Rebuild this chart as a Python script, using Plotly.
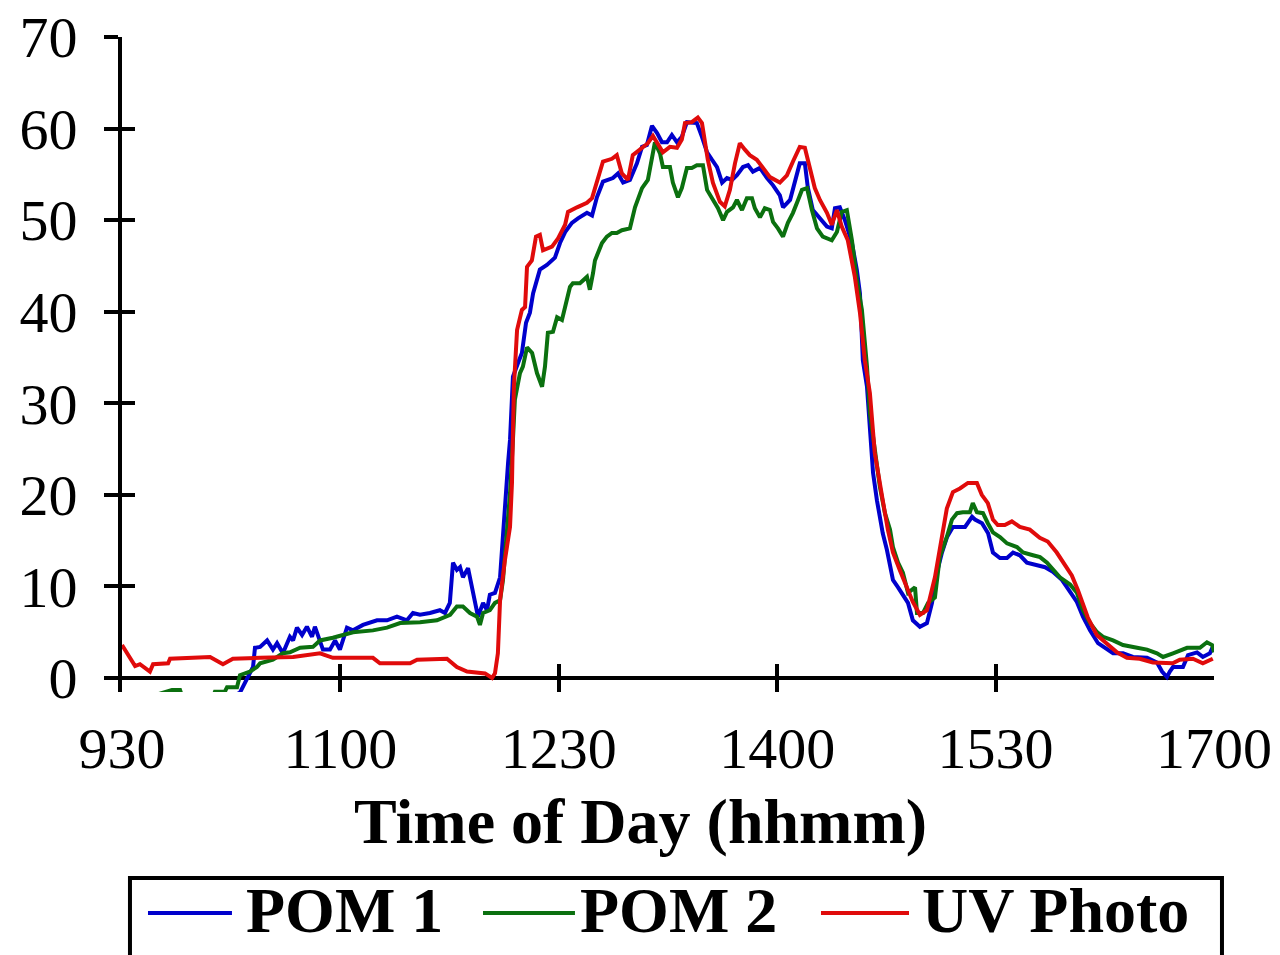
import plotly.graph_objects as go

# Time axis: minutes after 09:30
tick_minutes = [0, 90, 180, 270, 360, 450]
tick_labels = ["930", "1100", "1230", "1400", "1530", "1700"]
y_ticks = [0, 10, 20, 30, 40, 50, 60, 70]

pom1_t = [0, 11.5, 31.3, 38.3, 48.6, 51.9, 54.0, 54.8, 56.9, 59.8, 62.2, 63.9, 66.3, 69.2, 70.5, 72.1, 74.2,
          76.2, 78.3, 79.5, 81.6, 82.8, 85.7, 87.8, 89.8, 92.7, 95.2, 99.3, 105.1, 109.2, 113.3, 117.4,
          119.9, 122.8, 126.9, 131.0, 133.1, 135.1, 136.4, 138.0, 139.3, 140.5, 142.6, 144.6, 146.7,
          148.8, 150.4, 151.6, 153.7, 155.8, 157.0, 157.8, 159.1, 159.9, 161.1, 163.2, 164.8, 166.5,
          168.1, 169.4, 172.2, 175.1, 178.4, 180.5, 182.6, 185.4, 187.9, 191.6, 193.7, 195.7, 198.2,
          202.3, 204.4, 206.5, 209.3, 212.2, 214.3, 216.3, 218.4, 220.5, 222.5, 224.6, 226.6, 228.7,
          230.7, 232.8, 236.9, 239.0, 241.1, 243.1, 245.2, 247.3, 249.3, 251.4, 253.4, 255.9, 258.0,
          260.0, 262.9, 265.8, 268.3, 271.1, 272.4, 275.3, 277.3, 279.3, 281.4, 282.6, 284.7, 287.6,
          290.5, 292.5, 293.8, 295.8, 297.9, 300.8, 302.8, 304.1, 305.3, 307.0, 308.2, 309.5, 311.1,
          312.3, 313.5, 315.2, 316.5, 317.7, 319.8, 321.8, 323.9, 325.9, 328.8, 331.7, 333.8, 335.8,
          337.9, 340.0, 342.4, 347.4, 350.3, 351.5, 354.4, 356.9, 358.9, 361.8, 364.7, 367.2, 370.0,
          372.9, 377.0, 380.4, 383.6, 387.4, 390.7, 393.5, 396.0, 398.9, 402.2, 405.8, 408.4, 412.5,
          416.6, 422.4, 426.5, 428.6, 430.6, 431.8, 433.1, 437.2, 439.3, 443.0, 445.4, 448.3, 449.5]
pom1_v = [-4, -4, -1.8, -3, -1.6, 0.1, 1.2, 3.3, 3.4, 4.1, 3.1, 3.8, 2.7, 4.5, 4.1, 5.5, 4.7,
          5.6, 4.5, 5.6, 4.1, 3.1, 3.1, 4.1, 3.1, 5.5, 5.2, 5.8, 6.3, 6.3, 6.7, 6.3,
          7.1, 6.9, 7.1, 7.4, 7.1, 8.2, 12.6, 11.8, 12.1, 11.0, 12.0, 9.3, 6.7,
          8.2, 7.4, 9.1, 9.3, 11.0, 15.8, 19.4, 23.5, 26.0, 32.9, 34.4, 35.5, 38.8,
          39.9, 42.0, 44.6, 45.1, 45.9, 47.5, 48.7, 49.7, 50.2, 50.8, 50.5, 52.5, 54.2,
          54.6, 55.1, 54.1, 54.4, 56.2, 58.0, 58.2, 60.3, 59.5, 58.5, 58.5, 59.3, 58.5,
          59.1, 60.7, 60.6, 59.1, 57.4, 56.6, 55.8, 54.1, 54.6, 54.4, 54.9, 55.8, 56.0,
          55.3, 55.7, 54.6, 53.8, 52.7, 51.4, 52.2, 54.4, 56.2, 56.2, 53.6, 51.1, 50.2,
          49.3, 49.1, 51.3, 51.4, 50.0, 47.5, 44.6, 42.0, 34.7, 31.8, 26.8, 22.4, 19.4,
          17.6, 15.8, 14.0, 12.1, 10.7, 9.9, 9.1, 8.2, 6.3, 5.6, 6.0, 8.2, 11.5,
          13.7, 15.4, 16.5, 16.5, 17.6, 17.3, 16.9, 15.8, 13.7, 13.1, 13.1, 13.7, 13.4,
          12.6, 12.3, 12.1, 11.6, 10.7, 9.4, 8.3, 6.7, 5.2, 3.8, 3.1, 2.7, 2.7,
          2.3, 2.2, 1.7, 0.7, 0.1, 0.7, 1.2, 1.2, 2.5, 2.8, 2.3, 2.7, 3.4]

pom2_t = [0, 20.6, 23.9, 26.0, 36.3, 38.3, 42.4, 43.3, 47.4, 48.6, 52.7, 55.6, 56.9, 62.2, 66.3, 69.2,
          73.4, 78.7, 81.6, 86.9, 95.2, 103.4, 109.2, 114.6, 122.8, 129.8, 135.2, 138.0, 140.5, 143.4,
          146.3, 147.5, 148.8, 151.6, 153.7, 155.8, 157.0, 158.7, 159.9, 161.1, 161.9, 164.0, 165.2,
          166.9, 169.0, 171.0, 173.1, 174.3, 175.5, 177.6, 179.3, 181.3, 183.4, 184.6, 185.8, 188.7,
          191.6, 192.8, 194.1, 194.9, 197.8, 199.8, 201.9, 203.9, 206.0, 209.3, 211.4, 212.6, 214.3,
          216.7, 218.4, 219.6, 221.7, 222.9, 225.8, 227.0, 229.1, 230.7, 232.8, 234.8, 236.9, 239.4,
          241.1, 243.5, 245.6, 247.7, 249.3, 251.8, 253.4, 255.5, 257.5, 259.6, 260.8, 262.9, 264.9,
          267.0, 268.3, 270.3, 272.4, 274.4, 276.5, 278.6, 280.2, 282.3, 284.3, 286.4, 288.8, 292.5,
          294.6, 296.6, 298.7, 300.8, 302.8, 304.9, 307.0, 308.2, 310.2, 312.3, 314.4, 316.5, 317.7,
          319.8, 321.8, 323.9, 326.8, 327.6, 330.1, 332.2, 335.0, 337.0, 339.9, 342.0, 344.1, 346.5,
          349.4, 350.6, 352.3, 354.8, 356.8, 358.9, 361.8, 364.7, 368.8, 371.3, 375.4, 378.3, 381.2,
          383.6, 386.5, 390.7, 393.5, 396.0, 398.9, 401.8, 404.3, 408.4, 412.5, 418.3, 422.4, 426.5,
          429.0, 433.1, 438.9, 444.2, 447.1, 449.2, 450.0]
pom2_v = [-3, -1.3, -1.3, -3, -3, -1.5, -1.5, -1.0, -1.0, 0.3, 0.7, 1.2, 1.6, 2.0, 2.7, 2.8,
          3.3, 3.4, 4.1, 4.4, 5.0, 5.2, 5.5, 6.0, 6.1, 6.3, 6.9, 7.8, 7.8, 7.1,
          6.7, 5.8, 7.1, 7.4, 8.2, 8.5, 10.7, 15.8, 20.2, 26.0, 30.4, 33.3, 34.0,
          36.1, 35.5, 33.3, 31.8, 34.0, 37.7, 37.8, 39.4, 39.1, 41.3, 42.7, 43.1, 43.1,
          43.8, 42.4, 44.2, 45.6, 47.5, 48.2, 48.6, 48.6, 48.9, 49.1, 51.4, 52.2, 53.5,
          54.4, 57.1, 58.5, 57.3, 55.8, 55.8, 54.1, 52.5, 53.5, 55.7, 55.7, 56.0, 56.0,
          53.3, 52.2, 51.3, 50.0, 50.9, 51.4, 52.2, 51.1, 52.4, 52.4, 51.3, 50.3, 51.3,
          51.1, 49.8, 49.1, 48.2, 49.7, 50.8, 52.2, 53.3, 53.5, 51.1, 49.1, 48.2, 47.8,
          48.7, 50.9, 51.1, 47.8, 43.5, 40.2, 34.0, 28.9, 24.6, 20.9, 18.0, 16.2, 14.3,
          12.6, 11.5, 9.3, 9.9, 7.1, 7.1, 8.2, 8.8, 13.2, 15.4, 17.3, 18.0, 18.1,
          18.1, 19.1, 18.1, 18.0, 16.9, 15.9, 15.4, 14.7, 14.3, 13.7, 13.4, 13.2, 12.6,
          11.8, 11.0, 10.2, 9.3, 7.4, 6.0, 5.0, 4.5, 4.1, 3.6, 3.3, 3.1, 2.7,
          2.3, 2.7, 3.3, 3.3, 3.9, 3.6, 2.8]

uv_t = [0, 5.4, 7.4, 9.5, 11.5, 12.8, 19.0, 19.8, 26.8, 30.9, 36.3, 41.6, 45.7, 56.9, 70.5, 81.6, 86.9,
        95.2, 103.4, 106.3, 118.7, 121.6, 133.9, 138.0, 142.2, 149.6, 152.5, 153.7, 154.9, 155.8, 157.8,
        159.9, 160.7, 161.1, 161.5, 162.8, 164.8, 166.1, 166.9, 168.9, 170.6, 172.2, 173.5, 177.2,
        179.7, 182.6, 183.8, 187.5, 191.6, 193.7, 195.7, 198.2, 201.9, 203.9, 206.0, 208.5, 210.5,
        213.4, 216.7, 218.8, 220.8, 222.9, 225.8, 228.7, 230.7, 232.0, 234.8, 237.3, 239.0, 240.2,
        241.4, 243.5, 246.4, 248.4, 250.5, 252.6, 254.6, 256.7, 258.7, 261.6, 263.7, 267.0, 271.1,
        274.0, 276.5, 279.3, 281.4, 283.5, 285.5, 287.6, 290.5, 292.5, 294.6, 296.6, 299.1, 302.0,
        304.1, 306.1, 308.2, 310.2, 312.3, 313.5, 315.6, 317.7, 320.5, 323.4, 325.9, 328.8, 331.7,
        335.0, 337.0, 339.9, 342.4, 345.3, 348.6, 352.3, 354.3, 356.8, 358.9, 360.9, 363.8, 366.7,
        370.0, 374.1, 378.2, 381.5, 385.2, 387.7, 391.4, 393.9, 396.0, 398.0, 401.7, 405.8, 410.0,
        414.1, 419.4, 424.8, 433.0, 435.9, 441.3, 445.4, 449.5]
uv_v = [3.6, 1.3, 1.5, 1.1, 0.7, 1.5, 1.6, 2.1, 2.2, 2.3, 2.3, 1.5, 2.1, 2.2, 2.3, 2.7, 2.2,
        2.2, 2.2, 1.6, 1.6, 2.0, 2.1, 1.2, 0.7, 0.5, 0.0, 0.5, 2.7, 8.5, 12.9,
        16.5, 21.3, 26.8, 31.8, 38.0, 40.2, 40.5, 44.9, 45.6, 48.2, 48.4, 46.7, 47.1,
        48.0, 49.5, 50.9, 51.4, 51.9, 52.4, 54.2, 56.4, 56.7, 57.1, 55.1, 54.4, 57.1,
        57.7, 58.4, 59.2, 58.4, 57.4, 58.0, 57.9, 58.8, 60.6, 60.7, 61.2, 60.6, 58.8,
        56.6, 54.1, 52.0, 51.5, 53.3, 56.2, 58.4, 57.7, 57.1, 56.6, 55.8, 54.7, 54.1,
        54.9, 56.4, 58.0, 57.9, 55.5, 53.5, 52.2, 50.8, 49.5, 51.1, 49.3, 47.8, 43.8,
        39.9, 34.7, 31.1, 24.6, 21.6, 19.4, 16.2, 13.7, 11.8, 9.9, 8.3, 6.9, 7.4,
        11.0, 14.3, 18.5, 20.3, 20.7, 21.3, 21.3, 20.0, 19.1, 17.3, 16.7, 16.7, 17.1,
        16.5, 16.2, 15.3, 14.9, 13.7, 12.7, 11.2, 9.6, 8.2, 6.6, 4.7, 3.8, 2.8,
        2.2, 2.1, 1.7, 1.6, 2.0, 2.1, 1.6, 2.1]

series_names = ["POM 1", "POM 2", "UV Photo"]
series_colors = ["#0000cc", "#0b700f", "#e00b0b"]

FONT = "Liberation Serif, Times New Roman, serif"

fig = go.Figure()
for name, t, v, c in zip(series_names, [pom1_t, pom2_t, uv_t], [pom1_v, pom2_v, uv_v], series_colors):
    fig.add_trace(go.Scatter(x=t, y=v, mode="lines", name=name, showlegend=False,
                             line=dict(color=c, width=4)))

# invisible trace to host the overlaid axis that gives the crossing y ticks
fig.add_trace(go.Scatter(x=[0], y=[0], yaxis="y2", mode="markers", marker=dict(opacity=0),
                         showlegend=False, hoverinfo="skip"))

yr = [-1.53, 70]
fig.update_layout(
    width=1280, height=955,
    margin=dict(l=122, r=66, t=37, b=263, autoexpand=False),
    paper_bgcolor="white", plot_bgcolor="white",
    font=dict(family=FONT, size=58, color="black"),
    xaxis=dict(range=[0, 450], tickvals=tick_minutes, ticktext=tick_labels,
               showgrid=False, zeroline=False, showline=False, automargin=False,
               ticks="inside", ticklen=28, tickwidth=4, tickcolor="black",
               ticklabelstandoff=17, tickfont=dict(size=58)),
    yaxis=dict(range=yr, tickvals=y_ticks, showgrid=False, automargin=False,
               zeroline=True, zerolinecolor="black", zerolinewidth=4,
               showline=True, linecolor="black", linewidth=4,
               ticks="outside", ticklen=14, tickwidth=4, tickcolor="black",
               ticklabelstandoff=15, tickfont=dict(size=58)),
    yaxis2=dict(range=yr, overlaying="y", side="left", tickvals=y_ticks, showticklabels=False,
                showgrid=False, zeroline=False, showline=False, automargin=False,
                ticks="inside", ticklen=13, tickwidth=4, tickcolor="black"),
)

# axis title (centred on the chart as in the original)
fig.add_annotation(text="<b>Time of Day (hhmm)</b>", xref="paper", yref="paper",
                   x=0.4744, y=-0.198, xanchor="center", yanchor="middle",
                   showarrow=False, font=dict(size=64, family=FONT))

# legend box drawn like the original (long line samples)
fig.add_shape(type="rect", xref="paper", yref="paper", x0=0.0073, x1=1.0073, y0=-0.42, y1=-0.284,
              line=dict(color="black", width=4), fillcolor="rgba(0,0,0,0)")
leg_line_x = [(0.0238, 0.1007), (0.3306, 0.4148), (0.6401, 0.7207)]
leg_text_x = [0.1117, 0.4176, 0.7308]
for name, c, (a, b), tx in zip(series_names, series_colors, leg_line_x, leg_text_x):
    fig.add_shape(type="line", xref="paper", yref="paper", x0=a, x1=b, y0=-0.3374, y1=-0.3374,
                  line=dict(color=c, width=4))
    fig.add_annotation(text="<b>%s</b>" % name, xref="paper", yref="paper", x=tx, y=-0.334,
                       xanchor="left", yanchor="middle", showarrow=False,
                       font=dict(size=64, family=FONT))

fig.write_html("out.html")
